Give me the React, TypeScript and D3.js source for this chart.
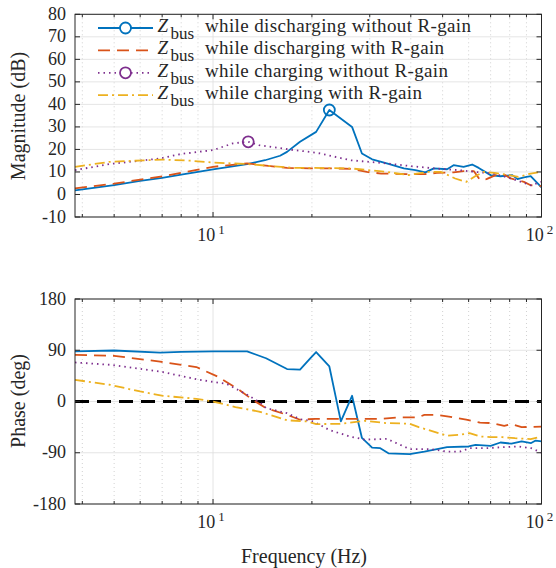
import React from 'react'
import * as d3 from 'd3'

// magnitude data (Hz, dB)
const magDisNoRF = [3.8, 5, 6, 7, 8, 9, 10, 12.7, 14.4, 16, 16.8, 18.4, 20.6, 22.6, 26.5, 28.4, 30.5, 33.8, 38.1, 41.3, 44.3, 47, 51.6, 54, 57.9, 61.5, 64.4, 70, 75, 81.5, 84.5, 88.4, 92.7, 100]
const magDisNoR = [1.8, 4.2, 6.0, 7.4, 8.8, 10.0, 11.1, 13.5, 15.2, 17.2, 18.9, 23.4, 27.8, 37.5, 30, 18.2, 15.6, 13.8, 11.6, 10.8, 9.8, 11.6, 11.2, 13, 12.3, 13.3, 11.8, 8.6, 8.1, 8.6, 6.8, 7.6, 8.1, 3.1]
const magDisRF = [3.8, 5, 6, 7, 8, 9, 10, 12.7, 14.5, 16.8, 19.8, 23, 26.5, 29.4, 32.5, 39, 44, 48, 54, 58, 62.2, 65, 68, 72.5, 77.5, 80.5, 88.4, 92.7, 100]
const magDisR = [2.7, 4.8, 6.6, 8.0, 9.6, 11.0, 12.3, 13.8, 12.8, 11.8, 11.6, 11.6, 11.4, 10, 9.3, 9, 9, 9.6, 9.8, 10.4, 10.4, 6.4, 6.8, 8.6, 8.6, 7.1, 5.6, 4.1, 3.7]
const magChNoRF = [3.8, 4.85, 6.9, 8, 10, 11.5, 12.8, 13.8, 17.6, 19.8, 21.2, 26.2, 33.8, 40, 47, 56, 63, 71, 81, 92.7, 100]
const magChNoR = [10.8, 13.5, 16, 18, 19.7, 22.7, 23.4, 21.9, 19.7, 18.9, 18.2, 15.2, 13.8, 12.6, 11.6, 10.8, 10, 9.3, 7.1, 4.1, 5.6]
const magChRF = [3.8, 4.85, 7.05, 8.5, 10, 12.7, 17.6, 19.8, 26.2, 33.8, 39.4, 44.8, 49.5, 54.6, 59, 62.8, 66.5, 72, 79.5, 85, 92.7, 100]
const magChR = [12.3, 14.5, 15.5, 15, 14.2, 13.5, 11.8, 11.8, 11.6, 10, 8.6, 10, 10, 7.1, 5.6, 8.1, 10, 9.6, 8.6, 7.8, 9.3, 10]

// phase data (Hz, deg)
const phDisNoRF = [3.8, 5, 6.9, 8, 10, 12.7, 14.5, 16.8, 18.4, 19.8, 20.6, 22.6, 24.5, 26.5, 28.4, 30.5, 32.3, 34.2, 39.7, 44, 51.6, 60, 63, 70, 75, 81, 87, 93, 96, 100]
const phDisNoR = [88, 89.6, 86, 87, 88, 88, 76, 57, 56, 76, 86.8, 61.5, -35, 10, -64, -81, -82, -91, -92.5, -88, -80, -79, -76, -78, -72, -74, -70, -73, -68.6, -70]
const phDisRF = [3.8, 5, 6.9, 8.9, 10.3, 12, 13.2, 14.5, 16.8, 18.4, 20.5, 26.8, 32.3, 36.5, 42, 44, 48, 51.6, 59, 65, 71, 77, 81, 87, 100]
const phDisR = [82, 80.3, 70, 60.5, 44, 20.6, 3, -11.6, -23.4, -32, -30.4, -30.4, -30.4, -28, -28, -23.4, -23.4, -26, -32, -37, -38, -42.7, -39.7, -45, -44]
const phChNoRF = [3.8, 4.85, 6.9, 9.1, 11, 12.7, 13.9, 14.5, 16.8, 18.4, 20.2, 22.6, 26.1, 29, 33.8, 37.1, 39.7, 46, 51.6, 56.4, 60.4, 67.8, 77.3, 85, 93, 100]
const phChNoR = [68.6, 64.5, 52.7, 38, 31, 11.8, -1.7, -11.6, -20.4, -31, -35, -50, -61.5, -67, -65.6, -76, -83.7, -83.7, -88, -88, -82, -82, -80, -79, -82, -89.7]
const phChRF = [3.8, 4.85, 6, 7.05, 8.9, 10, 11.7, 13.8, 16.8, 19.4, 20.6, 24.3, 29, 33.8, 39.7, 42.3, 51.6, 56.4, 60.4, 65, 70, 76, 83, 92.7, 100]
const phChR = [38, 29.4, 17.6, 10, 4.7, 0, -9.8, -17.6, -33, -35, -39.7, -39.2, -34, -38, -39, -45, -60, -58.5, -55.6, -61.5, -62.6, -62.6, -64.4, -66, -61.5]

const legendLabels = ['while discharging without R-gain', 'while discharging with R-gain', 'while charging without R-gain', 'while charging with R-gain']
const legendWidths = [266, 239, 243, 217]
const magTicks = [-10, 0, 10, 20, 30, 40, 50, 60, 70, 80]
const phTicks = [-180, -90, 0, 90, 180]

const blue = '#0072BD', orange = '#D95319', yellow = '#EDB120', purple = '#7E2F8E'
const styles = [
  { color: blue, dash: 'none' },
  { color: orange, dash: '12,7' },
  { color: purple, dash: '1.5,4' },
  { color: yellow, dash: '10,4,2,4' },
]
const serif = { fontFamily: '"Liberation Serif"' }

const zip = (f: number[], v: number[]) => f.map((d, i) => [d, v[i]] as [number, number])

const x = d3.scaleLog().domain([3.8, 100]).range([75, 541.5])
const minorX = [4, 5, 6, 7, 8, 9, 20, 30, 40, 50, 60, 70, 80, 90]

function Panel({ y, ticks, series, ylabel, labelY, xlabY, zero, markers }: any) {
  const [b, t] = y.range()
  const line = d3.line<[number, number]>().x(d => x(d[0])).y(d => y(d[1]))
  return (
    <g>
      {minorX.map(m => <line key={'g' + m} x1={x(m)} x2={x(m)} y1={t} y2={b} stroke="#bdbdbd" strokeWidth={0.7} strokeDasharray="1,3" />)}
      <line x1={x(10)} x2={x(10)} y1={t} y2={b} stroke="#dedede" strokeWidth={0.8} />
      {ticks.map((v: number) => <line key={'h' + v} x1={75} x2={541.5} y1={y(v)} y2={y(v)} stroke="#dedede" strokeWidth={0.8} />)}
      {zero && <line x1={75} x2={541.5} y1={y(0)} y2={y(0)} stroke="#000" strokeWidth={2.8} strokeDasharray="14,8" />}
      {series.map((s: [number, number][], i: number) => (
        <path key={i} d={line(s) || ''} fill="none" stroke={styles[i].color} strokeWidth={1.8}
          strokeDasharray={styles[i].dash} strokeLinejoin="round" />
      ))}
      {markers && markers.map((m: any, i: number) => (
        <circle key={'m' + i} cx={x(m.f)} cy={y(m.v)} r={5.5} fill="none" stroke={m.c} strokeWidth={1.8} />
      ))}
      <rect x={75} y={t} width={541.5 - 75} height={b - t} fill="none" stroke="#262626" strokeWidth={1} />
      {ticks.map((v: number) => (
        <g key={'t' + v}>
          <line x1={75} x2={80} y1={y(v)} y2={y(v)} stroke="#262626" />
          <line x1={536.5} x2={541.5} y1={y(v)} y2={y(v)} stroke="#262626" />
          <text x={66} y={y(v) + 5.5} textAnchor="end" fontSize={18} style={serif} fill="#262626">{v}</text>
        </g>
      ))}
      {minorX.map(m => (
        <g key={'mt' + m}>
          <line x1={x(m)} x2={x(m)} y1={b} y2={b - 3} stroke="#262626" />
          <line x1={x(m)} x2={x(m)} y1={t} y2={t + 3} stroke="#262626" />
        </g>
      ))}
      {[10, 100].map((v, i) => (
        <g key={'xt' + v}>
          <line x1={x(v)} x2={x(v)} y1={b} y2={b - 5} stroke="#262626" />
          <line x1={x(v)} x2={x(v)} y1={t} y2={t + 5} stroke="#262626" />
          <text x={x(v) - 2} y={xlabY} textAnchor="middle" fontSize={18} style={serif} fill="#262626">
            10<tspan dx={3} dy={-7} fontSize={13}>{i + 1}</tspan>
          </text>
        </g>
      ))}
      <text transform={`translate(25,${labelY}) rotate(-90)`} textAnchor="middle" fontSize={20} style={serif} fill="#262626">{ylabel}</text>
    </g>
  )
}

export default function App() {
  const yMag = d3.scaleLinear().domain([-10, 80]).range([217, 14.3])
  const yPh = d3.scaleLinear().domain([-180, 180]).range([504, 299])
  const magSeries = [zip(magDisNoRF, magDisNoR), zip(magDisRF, magDisR), zip(magChNoRF, magChNoR), zip(magChRF, magChR)]
  const phSeries = [zip(phDisNoRF, phDisNoR), zip(phDisRF, phDisR), zip(phChNoRF, phChNoR), zip(phChRF, phChR)]
  const peakIdx = magDisNoR.indexOf(d3.max(magDisNoR) as number)
  const purpleIdx = magChNoR.indexOf(d3.max(magChNoR) as number)
  const markers = [
    { f: magDisNoRF[peakIdx], v: magDisNoR[peakIdx], c: blue },
    { f: magChNoRF[purpleIdx], v: magChNoR[purpleIdx], c: purple },
  ]
  return (
    <svg width={556} height={568} style={{ position: 'absolute', left: 0, top: 0, background: '#fff' }}>
      <Panel y={yMag} ticks={magTicks} series={magSeries} ylabel="Magnitude (dB)" labelY={116} xlabY={241} markers={markers} />
      <Panel y={yPh} ticks={phTicks} series={phSeries} ylabel="Phase (deg)" labelY={401} xlabY={528} zero />
      <text x={304} y={563} textAnchor="middle" fontSize={20} style={serif} fill="#262626">Frequency (Hz)</text>
      {legendLabels.map((l, i) => {
        const ly = 28 + i * 22.4
        return (
          <g key={l}>
            <line x1={98} x2={153} y1={ly} y2={ly} stroke={styles[i].color} strokeWidth={1.8} strokeDasharray={styles[i].dash} />
            {(i === 0 || i === 2) && <circle cx={125.5} cy={ly} r={5.5} fill="#fff" stroke={styles[i].color} strokeWidth={1.8} />}
            <text y={ly + 4} fontSize={19} style={serif} fill="#262626">
              <tspan x={157.5} fontStyle="italic">Z</tspan>
              <tspan x={170.5} dy={7} fontSize={17}>bus</tspan>
              <tspan x={205} dy={-7} textLength={legendWidths[i]} lengthAdjust="spacing">{l}</tspan>
            </text>
          </g>
        )
      })}
    </svg>
  )
}
